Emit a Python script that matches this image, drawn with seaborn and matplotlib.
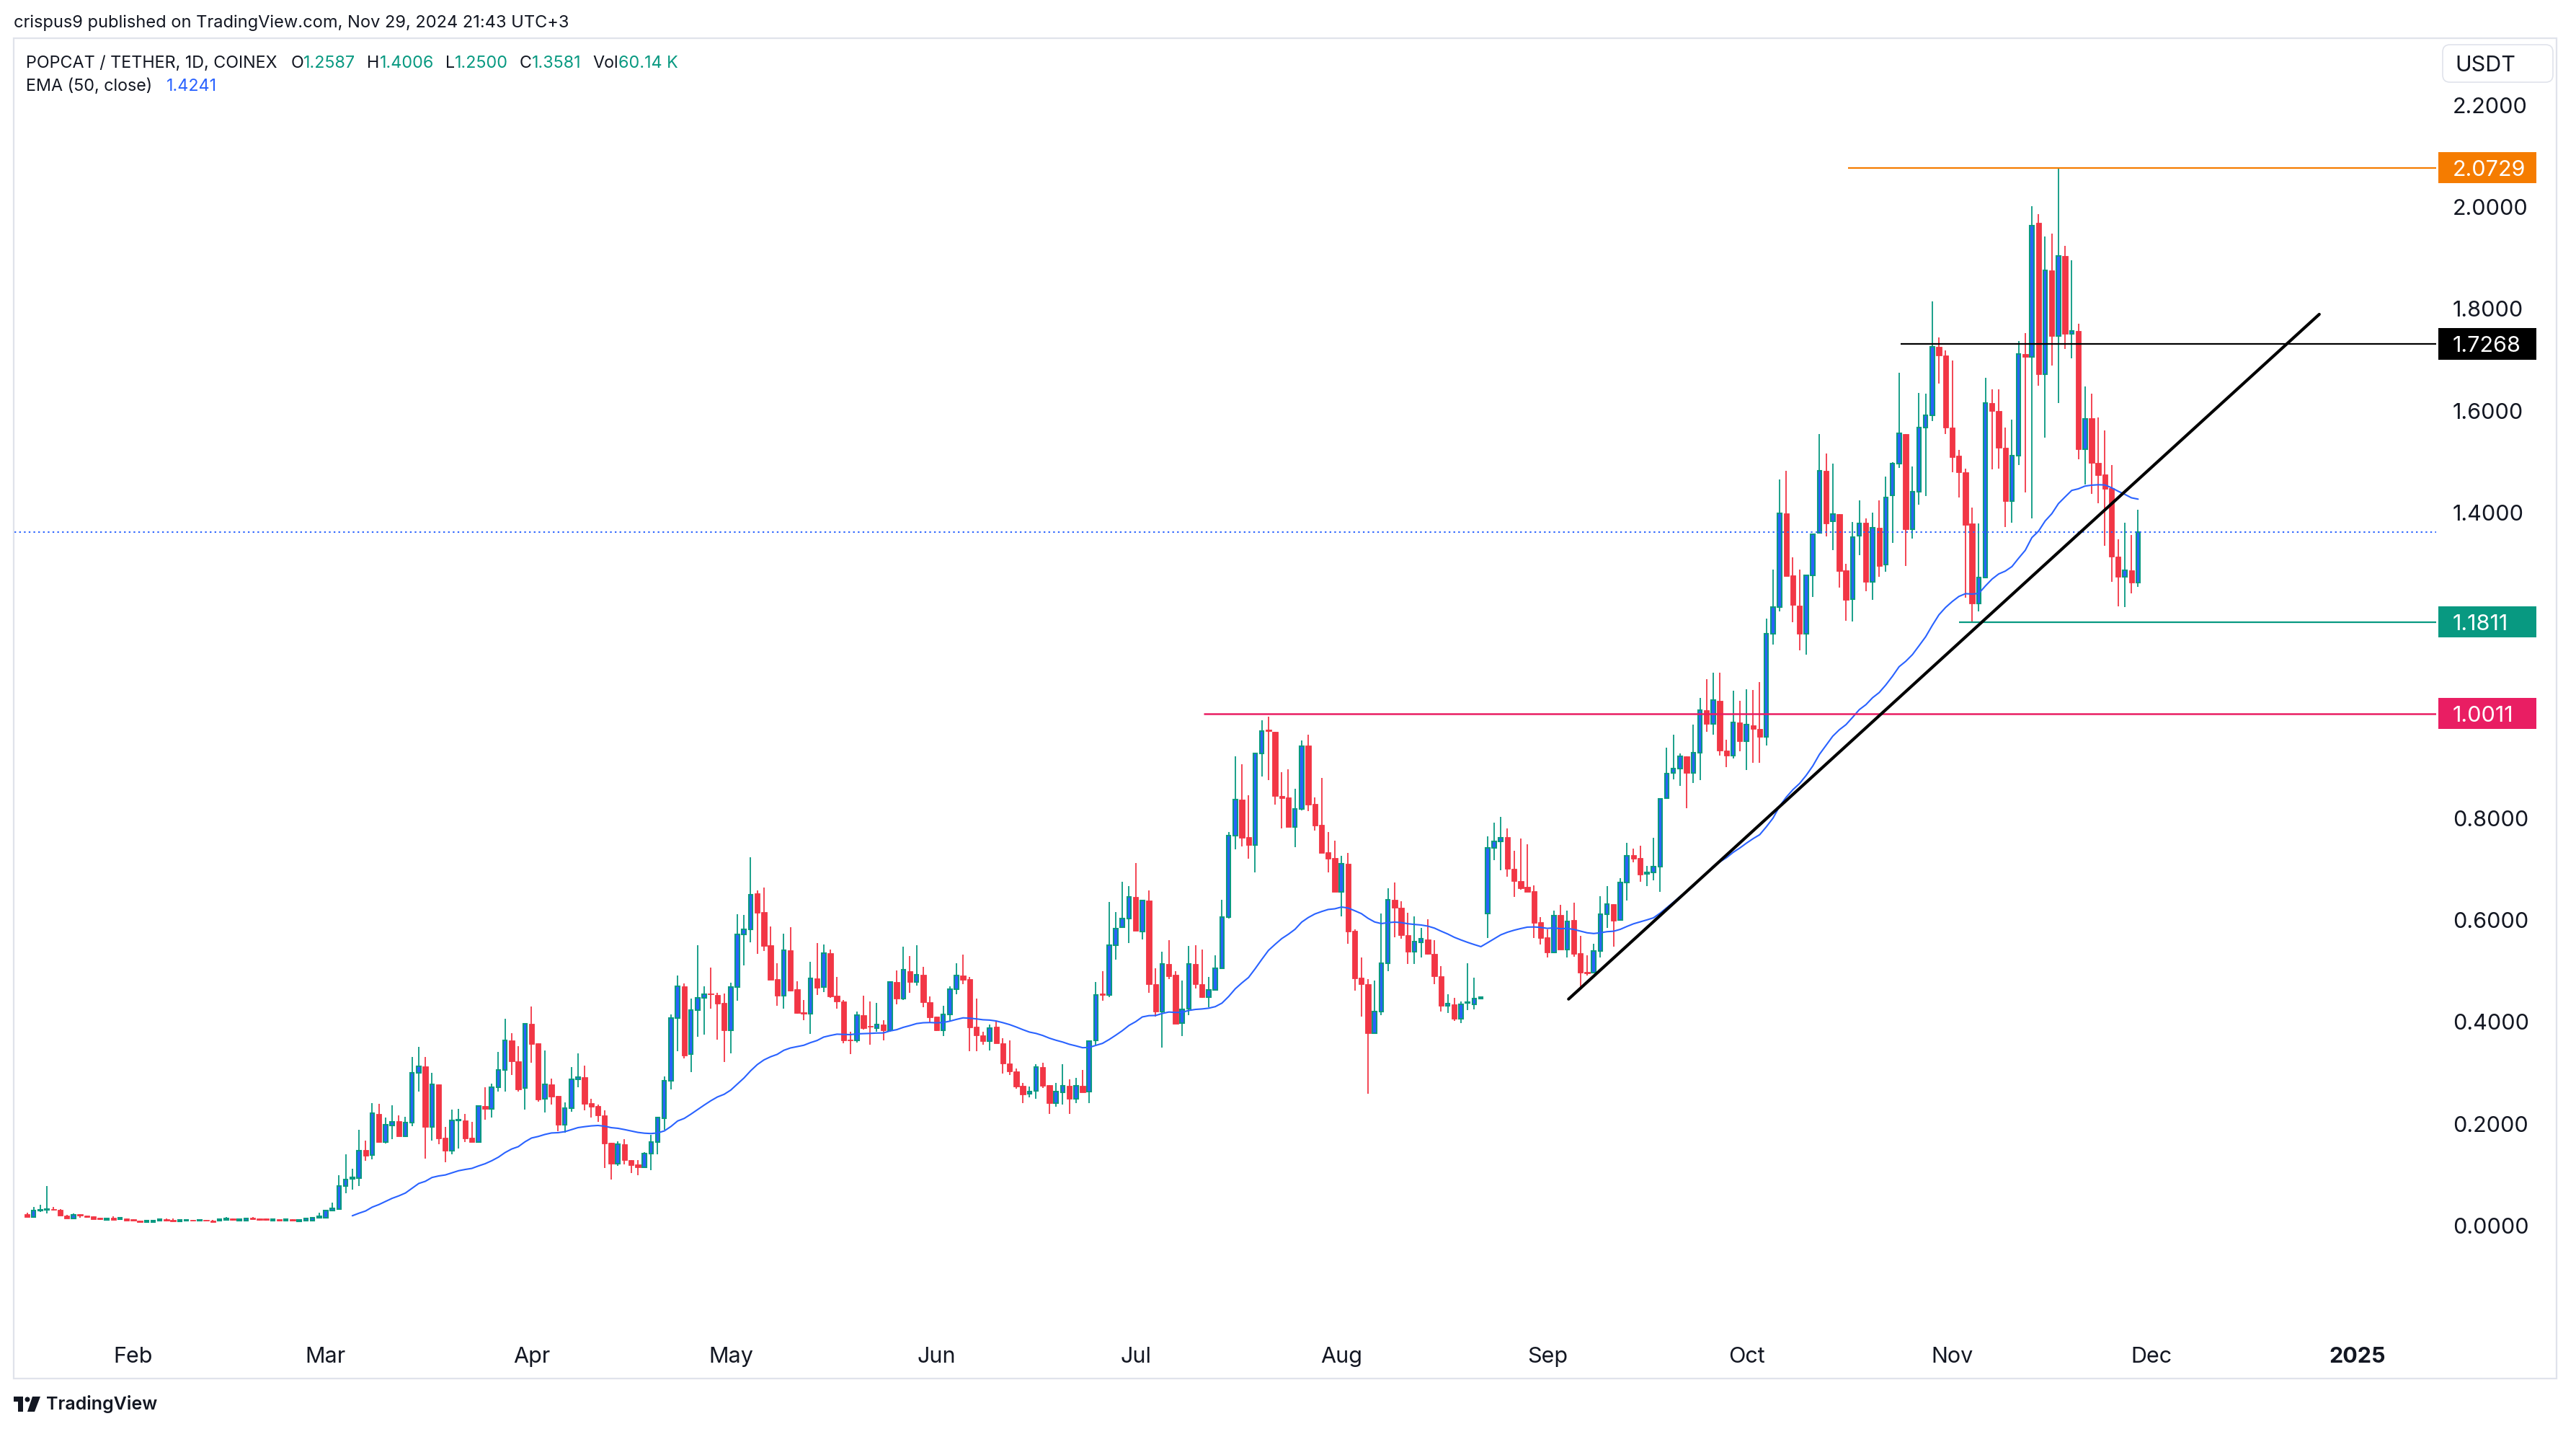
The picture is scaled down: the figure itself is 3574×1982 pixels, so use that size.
import numpy as np
import pandas as pd
import matplotlib
matplotlib.use("Agg")
import matplotlib.pyplot as plt
import matplotlib.dates as mdates
from matplotlib.patches import Rectangle, FancyBboxPatch, Polygon, Circle
from matplotlib.transforms import Affine2D, blended_transform_factory, offset_copy
import seaborn as sns

# daily POPCAT/USDT candles, starting 2024-01-16
first_day = "2024-01-16"
opens = [
    0.018, 0.013, 0.025, 0.027, 0.029, 0.027, 0.016, 0.010, 0.018, 0.016,
    0.014, 0.011, 0.0075, 0.011, 0.009, 0.010, 0.0085, 0.006, 0.003, 0.0033,
    0.006, 0.0085, 0.007, 0.0047, 0.005, 0.007, 0.005, 0.007, 0.006, 0.006,
    0.0075, 0.010, 0.006, 0.006, 0.012, 0.010, 0.010, 0.006, 0.0085, 0.006,
    0.0085, 0.0047, 0.006, 0.006, 0.012, 0.012, 0.026, 0.029, 0.073, 0.088,
    0.089, 0.144, 0.134, 0.215, 0.160, 0.193, 0.2005, 0.1717, 0.1976, 0.296,
    0.3085, 0.190, 0.2726, 0.168, 0.1434, 0.202, 0.2024, 0.168, 0.1594, 0.2307,
    0.2245, 0.267, 0.301, 0.360, 0.318, 0.2656, 0.3915, 0.3533, 0.2443, 0.273,
    0.25, 0.1939, 0.226, 0.283, 0.2868, 0.237, 0.2307, 0.2118, 0.158, 0.1175,
    0.155, 0.1245, 0.1156, 0.111, 0.138, 0.1594, 0.206, 0.2797, 0.404, 0.465,
    0.332, 0.4185, 0.4435, 0.451, 0.4487, 0.433, 0.3788, 0.4638, 0.567, 0.578,
    0.648, 0.611, 0.5464, 0.4798, 0.4478, 0.536, 0.460, 0.4142, 0.4124, 0.4808,
    0.4638, 0.5303, 0.4468, 0.4355, 0.3614, 0.359, 0.4086, 0.3873, 0.384, 0.3906,
    0.3798, 0.4737, 0.441, 0.4958, 0.4742, 0.4878, 0.4345, 0.406, 0.3798, 0.411,
    0.4596, 0.4864, 0.4794, 0.386, 0.3694, 0.3586, 0.386, 0.3534, 0.3137, 0.2991,
    0.2709, 0.2541, 0.2601, 0.3073, 0.272, 0.2357, 0.2574, 0.2709, 0.245, 0.2709,
    0.2585, 0.3598, 0.451, 0.4483, 0.5469, 0.5811, 0.599, 0.6408, 0.573, 0.6338,
    0.470, 0.4157, 0.5096, 0.4878, 0.3929, 0.4222, 0.509, 0.470, 0.444, 0.458,
    0.5014, 0.6018, 0.7617, 0.8317, 0.759, 0.7433, 0.9223, 0.969, 0.9651, 0.8398,
    0.836, 0.778, 0.8132, 0.938, 0.8235, 0.7834, 0.7286, 0.7177, 0.6505, 0.7058,
    0.5745, 0.4827, 0.470, 0.3741, 0.4157, 0.511, 0.635, 0.6193, 0.5665, 0.5335,
    0.5524, 0.557, 0.530, 0.485, 0.4274, 0.4307, 0.4024, 0.4325, 0.4307, 0.4415,
    0.609, 0.7373, 0.7505, 0.7585, 0.697, 0.6726, 0.6608, 0.6523, 0.591, 0.5618,
    0.5325, 0.6052, 0.5382, 0.5958, 0.5302, 0.4934, 0.492, 0.5345, 0.6066, 0.6264,
    0.5958, 0.6689, 0.7236, 0.7175, 0.6863, 0.6892, 0.701, 0.8357, 0.885, 0.8937,
    0.9178, 0.885, 0.9247, 1.0083, 0.981, 1.026, 0.928, 0.919, 0.9843, 0.9466,
    0.9775, 0.9706, 0.9556, 1.1578, 1.2106, 1.3943, 1.273, 1.2126, 1.1578, 1.2723,
    1.3559, 1.4779, 1.3785, 1.3922, 1.2826, 1.2263, 1.3498, 1.3758, 1.2593, 1.3655,
    1.2935, 1.4298, 1.4915, 1.5504, 1.3634, 1.436, 1.5622, 1.587, 1.7206, 1.704,
    1.5625, 1.508, 1.4755, 1.3744, 1.2169, 1.2684, 1.6103, 1.595, 1.5227, 1.4185,
    1.508, 1.7071, 1.701, 1.9645, 1.6673, 1.8707, 1.742, 1.8995, 1.7469, 1.7525,
    1.5196, 1.5809, 1.4926, 1.4706, 1.4436, 1.3088, 1.269, 1.2825, 1.2587,
]
highs = [
    0.021, 0.033, 0.037, 0.074, 0.033, 0.028, 0.017, 0.020, 0.018, 0.016,
    0.014, 0.011, 0.012, 0.014, 0.011, 0.010, 0.0085, 0.006, 0.0057, 0.0057,
    0.0085, 0.010, 0.010, 0.0085, 0.007, 0.007, 0.007, 0.007, 0.0065, 0.010,
    0.013, 0.010, 0.0085, 0.012, 0.013, 0.010, 0.010, 0.0085, 0.0085, 0.0085,
    0.0085, 0.007, 0.0104, 0.011, 0.021, 0.026, 0.041, 0.095, 0.136, 0.108,
    0.184, 0.163, 0.236, 0.235, 0.2075, 0.232, 0.212, 0.210, 0.327, 0.347,
    0.327, 0.296, 0.2726, 0.189, 0.2236, 0.2245, 0.215, 0.1995, 0.231, 0.2675,
    0.274, 0.3368, 0.402, 0.3736, 0.348, 0.3915, 0.426, 0.3533, 0.3396, 0.2844,
    0.25, 0.2377, 0.307, 0.334, 0.310, 0.245, 0.233, 0.2217, 0.158, 0.161,
    0.1656, 0.1245, 0.125, 0.1406, 0.1736, 0.2075, 0.2887, 0.411, 0.487, 0.472,
    0.4416, 0.546, 0.465, 0.5025, 0.4525, 0.451, 0.4723, 0.607, 0.606, 0.719,
    0.6535, 0.6596, 0.5827, 0.511, 0.569, 0.5817, 0.4756, 0.4388, 0.5138, 0.5506,
    0.5478, 0.5383, 0.484, 0.4393, 0.3765, 0.4157, 0.447, 0.4355, 0.433, 0.3992,
    0.4737, 0.4968, 0.543, 0.5251, 0.5468, 0.5034, 0.4454, 0.406, 0.4275, 0.4652,
    0.511, 0.5275, 0.484, 0.4411, 0.377, 0.3911, 0.3968, 0.3638, 0.360, 0.305,
    0.2764, 0.2693, 0.3127, 0.3154, 0.272, 0.2763, 0.3126, 0.2829, 0.2866, 0.3013,
    0.3588, 0.4737, 0.4952, 0.631, 0.6109, 0.6706, 0.6619, 0.7074, 0.6338, 0.6533,
    0.5015, 0.5339, 0.5557, 0.4959, 0.4764, 0.5443, 0.5466, 0.5378, 0.4835, 0.5269,
    0.6349, 0.7693, 0.9174, 0.9022, 0.8409, 0.9223, 0.9879, 0.9949, 0.9651, 0.8859,
    0.8913, 0.8534, 0.9483, 0.9597, 0.837, 0.8745, 0.7682, 0.7519, 0.7221, 0.727,
    0.577, 0.5218, 0.4803, 0.477, 0.609, 0.6575, 0.669, 0.6325, 0.61, 0.603,
    0.5807, 0.5967, 0.5557, 0.5052, 0.4495, 0.4425, 0.4354, 0.5108, 0.4825, 0.445,
    0.76, 0.7868, 0.799, 0.775, 0.7316, 0.7552, 0.7443, 0.6632, 0.602, 0.577,
    0.6137, 0.6255, 0.6137, 0.6292, 0.5642, 0.5264, 0.5486, 0.642, 0.6618, 0.6264,
    0.6774, 0.7467, 0.7354, 0.741, 0.702, 0.7575, 0.8354, 0.9337, 0.959, 0.9226,
    0.9178, 0.979, 1.0323, 1.0686, 1.0816, 1.0816, 0.95, 1.0459, 1.026, 1.0494,
    1.048, 1.0631, 1.1872, 1.2833, 1.4607, 1.4778, 1.3074, 1.2839, 1.2723, 1.3532,
    1.5498, 1.5121, 1.4923, 1.3922, 1.2949, 1.3771, 1.4202, 1.384, 1.3956, 1.4202,
    1.4662, 1.495, 1.6708, 1.5504, 1.4867, 1.6308, 1.6287, 1.8107, 1.7402, 1.7145,
    1.6942, 1.5184, 1.4816, 1.405, 1.3744, 1.6605, 1.6379, 1.6379, 1.5631, 1.5784,
    1.7328, 1.7482, 1.9975, 1.981, 1.9381, 1.943, 2.0729, 1.9197, 1.8909, 1.7665,
    1.644, 1.6287, 1.5827, 1.5564, 1.4896, 1.3438, 1.3762, 1.3511, 1.4006,
]
lows = [
    0.013, 0.013, 0.023, 0.020, 0.026, 0.015, 0.010, 0.010, 0.012, 0.012,
    0.009, 0.0075, 0.0075, 0.0075, 0.007, 0.006, 0.006, 0.003, 0.003, 0.0033,
    0.006, 0.0047, 0.0047, 0.0047, 0.005, 0.005, 0.005, 0.005, 0.003, 0.006,
    0.0066, 0.0057, 0.006, 0.006, 0.009, 0.0057, 0.0057, 0.006, 0.0047, 0.006,
    0.006, 0.0047, 0.006, 0.006, 0.012, 0.012, 0.026, 0.027, 0.060, 0.067,
    0.073, 0.123, 0.1255, 0.160, 0.1575, 0.1655, 0.1717, 0.1717, 0.1915, 0.259,
    0.128, 0.163, 0.156, 0.121, 0.1354, 0.147, 0.1594, 0.1594, 0.159, 0.204,
    0.208, 0.2585, 0.2585, 0.292, 0.2585, 0.223, 0.3156, 0.2387, 0.2184, 0.234,
    0.181, 0.178, 0.2198, 0.268, 0.222, 0.208, 0.200, 0.109, 0.0863, 0.1137,
    0.116, 0.0995, 0.0948, 0.1085, 0.105, 0.136, 0.184, 0.2637, 0.339, 0.324,
    0.2968, 0.367, 0.371, 0.4218, 0.3614, 0.3166, 0.3345, 0.4378, 0.507, 0.5525,
    0.530, 0.5355, 0.4789, 0.428, 0.4213, 0.4558, 0.412, 0.399, 0.3727, 0.4487,
    0.4544, 0.443, 0.4218, 0.3534, 0.333, 0.3553, 0.381, 0.3505, 0.376, 0.359,
    0.3765, 0.431, 0.439, 0.453, 0.4676, 0.425, 0.3944, 0.378, 0.3685, 0.3968,
    0.4506, 0.4704, 0.3388, 0.3388, 0.3506, 0.3402, 0.3534, 0.2949, 0.2911, 0.2647,
    0.236, 0.2471, 0.2444, 0.2666, 0.2148, 0.2288, 0.2341, 0.2148, 0.2368, 0.2574,
    0.2368, 0.3506, 0.4376, 0.4445, 0.5176, 0.5811, 0.5502, 0.5746, 0.5583, 0.4526,
    0.4065, 0.345, 0.4797, 0.3923, 0.368, 0.4086, 0.4618, 0.4429, 0.4249, 0.458,
    0.5014, 0.5985, 0.7346, 0.740, 0.7166, 0.6896, 0.8778, 0.8702, 0.8224, 0.7753,
    0.778, 0.7384, 0.8116, 0.8099, 0.7709, 0.727, 0.6896, 0.6505, 0.6028, 0.5486,
    0.4572, 0.4063, 0.2552, 0.3741, 0.4095, 0.4958, 0.5618, 0.5594, 0.509, 0.509,
    0.5217, 0.528, 0.4693, 0.4156, 0.4132, 0.3976, 0.393, 0.4194, 0.4203, 0.441,
    0.5608, 0.7127, 0.694, 0.681, 0.6406, 0.6552, 0.6514, 0.5608, 0.5476, 0.523,
    0.5325, 0.5382, 0.5217, 0.524, 0.4618, 0.4863, 0.492, 0.523, 0.5797, 0.5429,
    0.5958, 0.6344, 0.7094, 0.6712, 0.662, 0.674, 0.6514, 0.8357, 0.872, 0.8594,
    0.8152, 0.865, 0.87, 0.9659, 0.959, 0.918, 0.8958, 0.9124, 0.9268, 0.8905,
    0.9042, 0.9042, 0.9385, 1.1372, 1.2023, 1.2709, 1.1804, 1.1256, 1.1167, 1.2298,
    1.3559, 1.3485, 1.3224, 1.2483, 1.1838, 1.1818, 1.3121, 1.2413, 1.225, 1.2695,
    1.2798, 1.336, 1.4833, 1.2902, 1.3441, 1.4113, 1.4283, 1.5748, 1.6489, 1.5502,
    1.4743, 1.4252, 1.2292, 1.1811, 1.2016, 1.2672, 1.4804, 1.4816, 1.367, 1.3762,
    1.4896, 1.4357, 1.3848, 1.6452, 1.5429, 1.6838, 1.6103, 1.7175, 1.6985, 1.5,
    1.451, 1.4325, 1.4142, 1.3303, 1.2598, 1.212, 1.2102, 1.2365, 1.25,
]
closes = [
    0.013, 0.025, 0.027, 0.029, 0.027, 0.015, 0.010, 0.017, 0.016, 0.013,
    0.009, 0.009, 0.010, 0.0075, 0.011, 0.006, 0.006, 0.003, 0.0057, 0.0057,
    0.0085, 0.006, 0.0047, 0.007, 0.007, 0.005, 0.007, 0.005, 0.003, 0.0085,
    0.010, 0.007, 0.0085, 0.010, 0.009, 0.007, 0.007, 0.0085, 0.006, 0.0085,
    0.006, 0.007, 0.0095, 0.011, 0.014, 0.026, 0.030, 0.073, 0.087, 0.090,
    0.143, 0.133, 0.2165, 0.160, 0.194, 0.200, 0.1717, 0.1976, 0.296, 0.3085,
    0.190, 0.2726, 0.1675, 0.1434, 0.202, 0.204, 0.1675, 0.1594, 0.2307, 0.2245,
    0.267, 0.301, 0.360, 0.319, 0.2637, 0.3915, 0.353, 0.2439, 0.2726, 0.249,
    0.1939, 0.226, 0.283, 0.2868, 0.2354, 0.2297, 0.2118, 0.157, 0.1175, 0.155,
    0.124, 0.1146, 0.111, 0.138, 0.1594, 0.2075, 0.2797, 0.404, 0.465, 0.330,
    0.4185, 0.4425, 0.450, 0.4496, 0.432, 0.3797, 0.4638, 0.567, 0.577, 0.646,
    0.610, 0.5454, 0.4789, 0.4478, 0.536, 0.4577, 0.4133, 0.4124, 0.4808, 0.4628,
    0.5303, 0.4454, 0.436, 0.360, 0.360, 0.4086, 0.384, 0.386, 0.3906, 0.3798,
    0.4737, 0.441, 0.4977, 0.4737, 0.4878, 0.4345, 0.4053, 0.3798, 0.411, 0.4596,
    0.4864, 0.4784, 0.385, 0.3694, 0.3586, 0.384, 0.3534, 0.3137, 0.2991, 0.2694,
    0.2527, 0.2596, 0.3073, 0.2709, 0.2357, 0.2585, 0.2704, 0.245, 0.2709, 0.2574,
    0.3588, 0.4493, 0.449, 0.5459, 0.5784, 0.599, 0.6408, 0.5746, 0.6338, 0.470,
    0.4157, 0.509, 0.4862, 0.3923, 0.4211, 0.509, 0.470, 0.444, 0.4591, 0.5014,
    0.6018, 0.7617, 0.8317, 0.7574, 0.7433, 0.9223, 0.9673, 0.9673, 0.8398, 0.8355,
    0.778, 0.8143, 0.9364, 0.8224, 0.7812, 0.727, 0.7167, 0.6505, 0.7058, 0.5736,
    0.4817, 0.470, 0.3741, 0.4157, 0.511, 0.635, 0.6193, 0.5665, 0.5335, 0.5538,
    0.5585, 0.530, 0.485, 0.4274, 0.432, 0.4024, 0.4307, 0.4344, 0.4415, 0.4439,
    0.7373, 0.7505, 0.7575, 0.697, 0.6726, 0.6585, 0.6514, 0.590, 0.5608, 0.5325,
    0.6038, 0.5382, 0.5934, 0.5288, 0.492, 0.491, 0.5345, 0.6066, 0.6264, 0.5948,
    0.6689, 0.7222, 0.7165, 0.6854, 0.6892, 0.701, 0.833, 0.8837, 0.8937, 0.9178,
    0.885, 0.9247, 1.0083, 0.981, 1.0274, 0.928, 0.919, 0.9843, 0.9466, 0.9795,
    0.9713, 0.9556, 1.1578, 1.2106, 1.3943, 1.2709, 1.2147, 1.1578, 1.2723, 1.3532,
    1.4779, 1.375, 1.3929, 1.2812, 1.225, 1.3477, 1.375, 1.2593, 1.3655, 1.2915,
    1.4251, 1.4915, 1.5518, 1.3634, 1.436, 1.5622, 1.587, 1.7206, 1.704, 1.5625,
    1.5049, 1.4755, 1.3713, 1.2169, 1.2684, 1.6103, 1.595, 1.5227, 1.4185, 1.508,
    1.7071, 1.701, 1.9596, 1.6673, 1.8707, 1.742, 1.8995, 1.7469, 1.7525, 1.5196,
    1.5797, 1.4939, 1.4694, 1.4418, 1.3088, 1.269, 1.2825, 1.2587, 1.3581,
]

price_ticks = [0.0, 0.2, 0.4, 0.6, 0.8, 1.0, 1.2, 1.4, 1.6, 1.8, 2.0, 2.2]
month_dates = ["2024-02-01", "2024-03-01", "2024-04-01", "2024-05-01", "2024-06-01", "2024-07-01",
               "2024-08-01", "2024-09-01", "2024-10-01", "2024-11-01", "2024-12-01", "2025-01-01"]
month_labels = ["Feb", "Mar", "Apr", "May", "Jun", "Jul", "Aug", "Sep", "Oct", "Nov", "Dec", "2025"]

# horizontal levels drawn by the author
level_values = [2.0729, 1.7268, 1.1811, 1.0011]
level_starts = ["2024-10-16 07:00", "2024-10-24 05:00", "2024-11-02", "2024-07-11 05:00"]
level_colors = ["#F57C00", "#000000", "#089981", "#E91E63"]
# rising trend line
trend_dates = ["2024-09-04 05:00", "2024-12-26 07:00"]
trend_prices = [0.4406, 1.785]
volume_text = "60.14 K"
ema_text = "1.4241"

GREEN = "#089981"
RED = "#F23645"
BLUE = "#2962FF"
INK = "#131722"

sns.set_theme(style="white")
plt.rcParams["font.family"] = ["Inter", "DejaVu Sans"]

W, H, DPI = 3574, 1982, 200
fig = plt.figure(figsize=(W / DPI, H / DPI), dpi=DPI, facecolor="white")
px = Affine2D().scale(1 / W, -1 / H).translate(0, 1) + fig.transFigure

ax = fig.add_axes([20 / W, 1 - 1840 / H, 3360 / W, 1787 / H])
ax.set_facecolor("white")

o = np.array(opens)
h = np.array(highs)
l = np.array(lows)
c = np.array(closes)
xs = mdates.date2num(pd.date_range(first_day, periods=len(c), freq="D"))
up = c >= o

ax.vlines(xs[up], l[up], h[up], color=GREEN, lw=0.65, zorder=2)
ax.vlines(xs[~up], l[~up], h[~up], color=RED, lw=0.65, zorder=2)
ax.bar(xs[up], c[up] - o[up], bottom=o[up], width=0.6, color=BLUE,
       edgecolor=GREEN, linewidth=0.75, zorder=3)
ax.bar(xs[~up], c[~up] - o[~up], bottom=o[~up], width=0.8, color=RED,
       edgecolor=RED, linewidth=0.3, zorder=3)

# EMA(50) of close, seeded with the first 50-bar average like TradingView
n = len(c)
ema = np.full(n, np.nan)
ema[49] = c[:50].mean()
k = 2 / 51
for i in range(50, n):
    ema[i] = c[i] * k + ema[i - 1] * (1 - k)
ema_df = pd.DataFrame({"x": xs[49:], "ema": ema[49:]})
sns.lineplot(data=ema_df, x="x", y="ema", ax=ax, color=BLUE, lw=0.75,
             estimator=None, sort=False, zorder=4)

jan1 = mdates.date2num(pd.Timestamp("2024-01-01"))
x_right = jan1 + 377.9
ax.set_xlim(jan1 + 13.1, x_right)
ax.set_ylim(-0.2024, 2.327)

# current price dotted line
ax.axhline(c[-1], color=BLUE, lw=0.7, linestyle=(0, (1.2, 2.2)), zorder=4)

for v, s, col in zip(level_values, level_starts, level_colors):
    ax.hlines(v, mdates.date2num(pd.Timestamp(s)), x_right, color=col,
              lw=0.8 if col != "#E91E63" else 0.9, zorder=5)

ax.plot(mdates.date2num(pd.to_datetime(trend_dates)), trend_prices, color="black",
        lw=1.5, solid_capstyle="round", zorder=6)

ax.set_xticks([])
ax.set_yticks([])
ax.set_xlabel("")
ax.set_ylabel("")
for sp in ax.spines.values():
    sp.set_visible(False)

# price scale on the right
pxy = blended_transform_factory(px, ax.transData)
pxy_txt = offset_copy(pxy, fig=fig, y=-6, units="dots")
for v in price_ticks:
    # labels fully hidden behind a level box are not drawn
    if any(abs(v - lv) < 0.015 for lv in level_values):
        continue
    ax.text(3403, v, f"{v:.4f}", transform=pxy_txt, ha="left", va="center",
            fontsize=11, color=INK, clip_on=False)
for v, col in zip(level_values, level_colors):
    ax.add_patch(Rectangle((3383, v - 0.0305), 136, 0.061, transform=pxy,
                           facecolor=col, edgecolor="none", clip_on=False, zorder=7))
    ax.text(3403, v, f"{v:.4f}", transform=offset_copy(pxy, fig=fig, y=-3, units="dots"),
            ha="left", va="center", fontsize=11, color="white", clip_on=False, zorder=8)

# time scale
xpx = blended_transform_factory(ax.transData, px)
for d, lab in zip(month_dates, month_labels):
    ax.text(mdates.date2num(pd.Timestamp(d)), 1882, lab, transform=xpx, ha="center",
            va="center", fontsize=11, color=INK, clip_on=False,
            fontweight="bold" if lab == "2025" else "normal")

# frame and currency box
fig.add_artist(Rectangle((19, 53), 3528, 1859, transform=px, fill=False,
                         edgecolor="#E0E3EB", lw=0.8))
fig.add_artist(FancyBboxPatch((3389, 62), 153, 52, boxstyle="round,pad=0,rounding_size=10",
                              transform=px, facecolor="white", edgecolor="#E0E3EB", lw=0.6))
fig.text(3448, 91, "USDT", transform=px, ha="center", va="center", fontsize=11, color=INK)

# header
renderer = fig.canvas.get_renderer()


def chain(x, y, parts, size):
    for txt, col, gap in parts:
        t = fig.text(x + gap, y, txt, transform=px, ha="left", va="center",
                     fontsize=size, color=col)
        x = t.get_window_extent(renderer).x1
    return x


fig.text(19, 32, "crispus9 published on TradingView.com, Nov 29, 2024 21:43 UTC+3",
         transform=px, ha="left", va="center", fontsize=8.5, color=INK)
chain(36, 88, [("POPCAT / TETHER, 1D, COINEX", INK, 0),
               ("O", INK, 19), (f"{opens[-1]:.4f}", GREEN, 0),
               ("H", INK, 16), (f"{highs[-1]:.4f}", GREEN, 0),
               ("L", INK, 16), (f"{lows[-1]:.4f}", GREEN, 0),
               ("C", INK, 16), (f"{closes[-1]:.4f}", GREEN, 0),
               ("Vol", INK, 16), (volume_text, GREEN, 0)], 8.4)
chain(36, 120, [("EMA (50, close)", INK, 0), (ema_text, BLUE, 20)], 8.4)

# TradingView logo
fig.add_artist(Polygon([(19, 1937), (32, 1937), (32, 1958), (25, 1958), (25, 1944), (19, 1944)],
                       closed=True, transform=px, facecolor=INK, edgecolor="none"))
fig.add_artist(Circle((38, 1941), 3.5, transform=px, facecolor=INK, edgecolor="none"))
fig.add_artist(Polygon([(45, 1937), (56, 1937), (48, 1958), (38, 1958)],
                       closed=True, transform=px, facecolor=INK, edgecolor="none"))
fig.text(64, 1948, "TradingView", transform=px, ha="left", va="center",
         fontsize=9, fontweight="semibold", color=INK)

fig.savefig("out.png", dpi=DPI, facecolor="white")
